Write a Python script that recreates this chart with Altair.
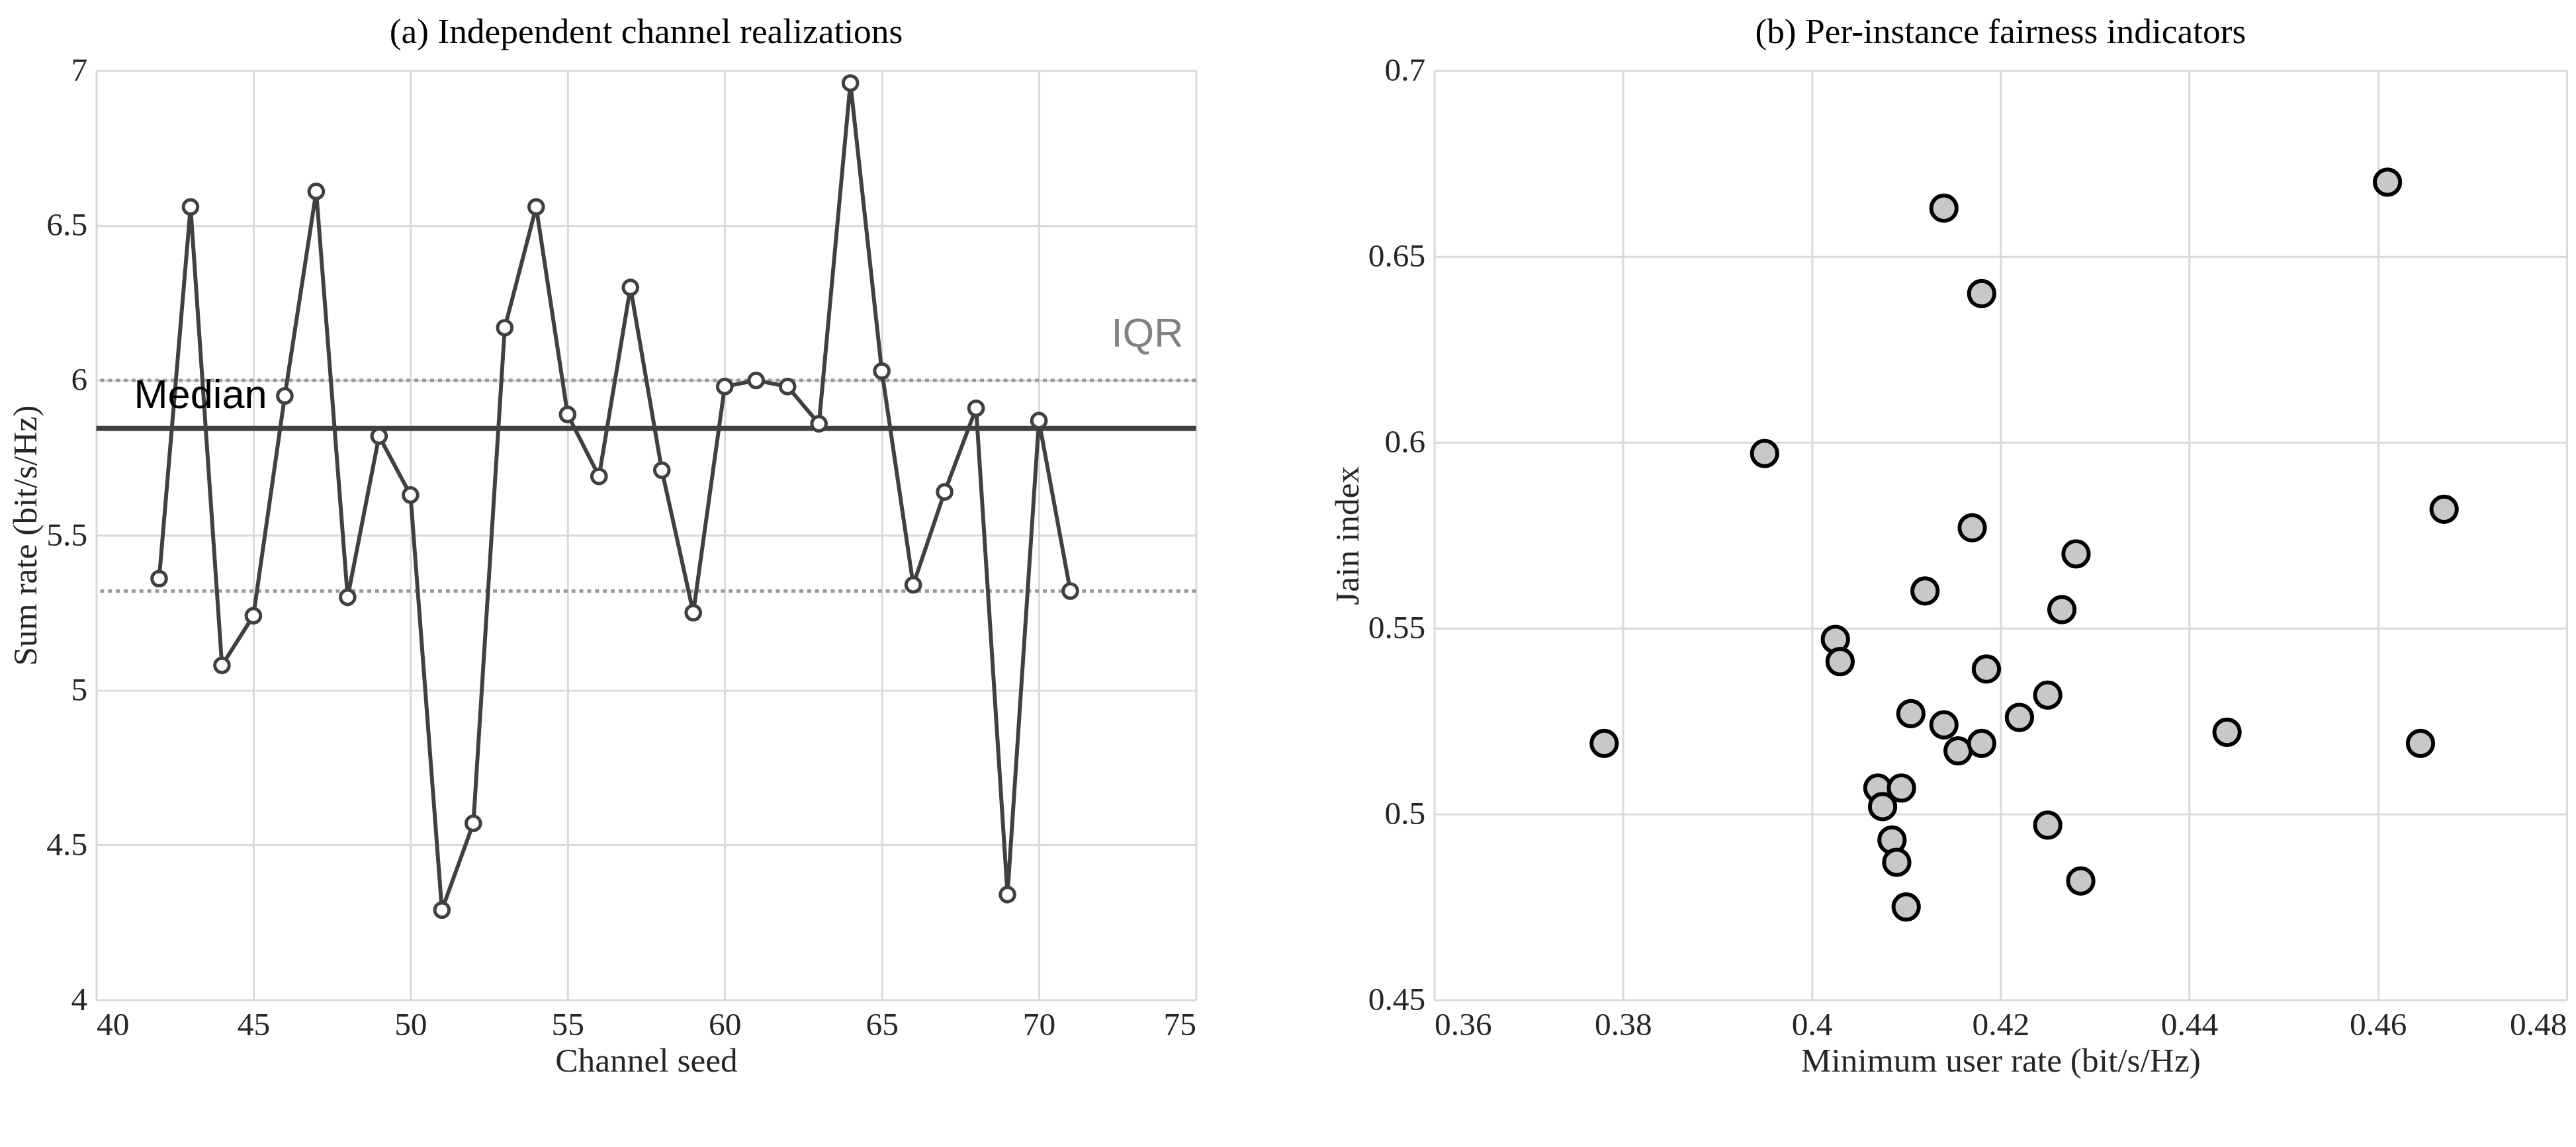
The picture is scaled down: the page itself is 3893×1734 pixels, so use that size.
import pandas as pd
import altair as alt

seeds = list(range(42, 72))
sum_rate = [5.36, 6.56, 5.08, 5.24, 5.95, 6.61, 5.30, 5.82, 5.63, 4.29,
            4.57, 6.17, 6.56, 5.89, 5.69, 6.30, 5.71, 5.25, 5.98, 6.00,
            5.98, 5.86, 6.96, 6.03, 5.34, 5.64, 5.91, 4.34, 5.87, 5.32]
median_val = 5.845
iqr_lo, iqr_hi = 5.32, 6.00

min_rate = [0.378, 0.395, 0.4025, 0.403, 0.407, 0.4075, 0.4085, 0.409, 0.4095, 0.410,
            0.4105, 0.412, 0.414, 0.414, 0.4155, 0.417, 0.418, 0.418, 0.4185, 0.422,
            0.425, 0.425, 0.4265, 0.428, 0.4285, 0.444, 0.461, 0.4645, 0.467]
jain = [0.519, 0.597, 0.547, 0.541, 0.507, 0.502, 0.493, 0.487, 0.507, 0.475,
        0.527, 0.560, 0.663, 0.524, 0.517, 0.577, 0.640, 0.519, 0.539, 0.526,
        0.497, 0.532, 0.555, 0.570, 0.482, 0.522, 0.670, 0.519, 0.582]

serif = "Liberation Serif"
dark = "#404040"
W, H = 1680, 1420

left_df = pd.DataFrame({"seed": seeds, "rate": sum_rate})
right_df = pd.DataFrame({"x": min_rate, "y": jain})

def ax(title, values):
    return alt.Axis(title=title, values=values, format="~g", grid=True, gridColor="#d9d9d9",
                    gridWidth=3, domain=False, ticks=False, labelFont=serif, titleFont=serif,
                    labelFontSize=50, titleFontSize=52, titleFontWeight="normal",
                    labelColor="#262626", titleColor="#262626", labelPadding=14)

xs = alt.Scale(domain=[40, 75], nice=False)
ys = alt.Scale(domain=[4, 7], nice=False)
xa = alt.X("seed:Q", scale=xs, axis=ax("Channel seed", [40, 45, 50, 55, 60, 65, 70, 75]))
ya = alt.Y("rate:Q", scale=ys, axis=ax("Sum rate (bit/s/Hz)", [4, 4.5, 5, 5.5, 6, 6.5, 7]))

line = alt.Chart(left_df).mark_line(color=dark, strokeWidth=6).encode(x=xa, y=ya)
pts = alt.Chart(left_df).mark_point(filled=True, fill="white", stroke=dark,
                                    strokeWidth=5, size=480, opacity=1).encode(
    x=alt.X("seed:Q", scale=xs), y=alt.Y("rate:Q", scale=ys))

iqr_df = pd.DataFrame({"rate": [iqr_lo, iqr_hi]})
iqr = alt.Chart(iqr_df).mark_rule(color="#999999", strokeWidth=5, strokeDash=[6, 6]).encode(
    y=alt.Y("rate:Q", scale=ys))
med = alt.Chart(pd.DataFrame({"rate": [median_val]})).mark_rule(color=dark, strokeWidth=8).encode(
    y=alt.Y("rate:Q", scale=ys))

med_txt = alt.Chart(pd.DataFrame({"seed": [41.2], "rate": [5.95], "t": ["Median"]})).mark_text(
    font="Liberation Sans", fontSize=62, align="left", baseline="middle", color="#000000").encode(
    x=alt.X("seed:Q", scale=xs), y=alt.Y("rate:Q", scale=ys), text="t:N")
iqr_txt = alt.Chart(pd.DataFrame({"seed": [74.6], "rate": [6.15], "t": ["IQR"]})).mark_text(
    font="Liberation Sans", fontSize=62, align="right", baseline="middle", color="#808080").encode(
    x=alt.X("seed:Q", scale=xs), y=alt.Y("rate:Q", scale=ys), text="t:N")

left = (iqr + med + line + pts + med_txt + iqr_txt).properties(
    width=W, height=H,
    title=alt.TitleParams("(a) Independent channel realizations", font=serif,
                          fontSize=54, fontWeight="normal", color="#000000", offset=6))

right = alt.Chart(right_df).mark_point(filled=True, fill="#c8c8c8", stroke="black",
                                       strokeWidth=6, size=1500, opacity=1).encode(
    x=alt.X("x:Q", scale=alt.Scale(domain=[0.36, 0.48], nice=False),
            axis=ax("Minimum user rate (bit/s/Hz)", [0.36, 0.38, 0.4, 0.42, 0.44, 0.46, 0.48])),
    y=alt.Y("y:Q", scale=alt.Scale(domain=[0.45, 0.7], nice=False),
            axis=ax("Jain index", [0.45, 0.5, 0.55, 0.6, 0.65, 0.7])),
).properties(
    width=1730, height=H,
    title=alt.TitleParams("(b) Per-instance fairness indicators", font=serif,
                          fontSize=54, fontWeight="normal", color="#000000", offset=6))

chart = alt.hconcat(left, right, spacing=200).resolve_scale(
    x="independent", y="independent").configure_view(
    stroke="#222222", strokeWidth=7).configure(background="white")

chart.save("out.html", embed_options={"renderer": "svg", "actions": False})
